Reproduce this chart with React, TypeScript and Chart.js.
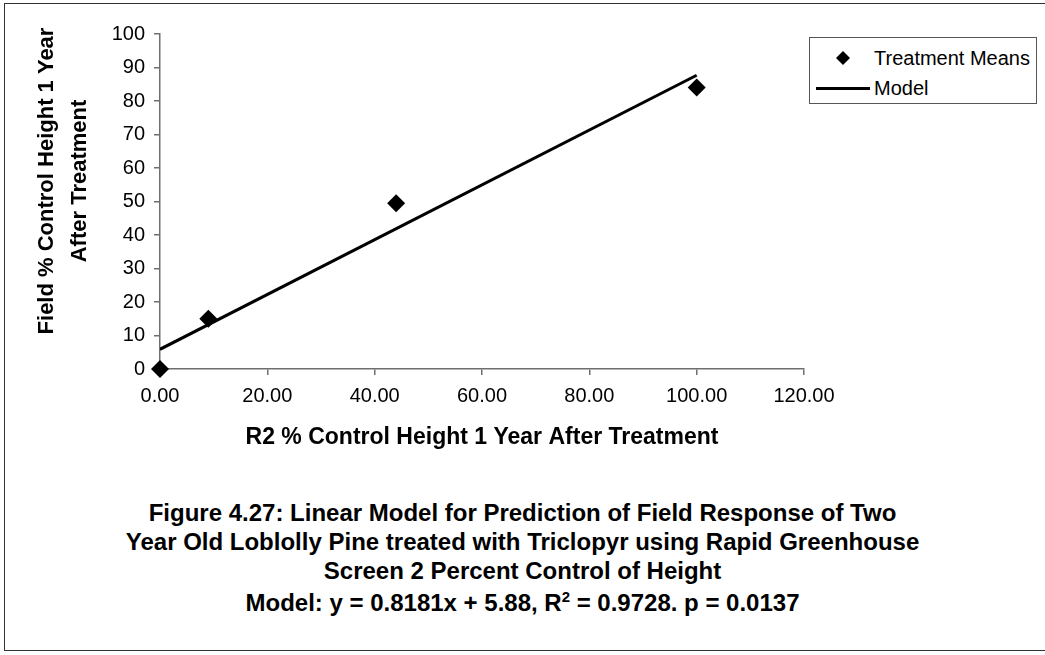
import React, { useEffect, useRef } from "react";
import { Chart, registerables } from "chart.js";

Chart.register(...registerables);

// Treatment means (R2 % control height vs field % control height)
const meansX = [0, 9, 44, 100];
const meansY = [0, 15, 49.5, 84];

// Fitted linear model endpoints
const modelX = [0, 100];
const modelY = [5.88, 87.69];

// Axis ticks
const xTicks = [0, 20, 40, 60, 80, 100, 120];
const yTicks = [0, 10, 20, 30, 40, 50, 60, 70, 80, 90, 100];

const seriesNames = ["Treatment Means", "Model"];
const xTitle = "R2 % Control Height 1 Year After Treatment";
const yTitle = ["Field % Control Height 1 Year", "After Treatment"];

const captionLines = [
  "Figure 4.27: Linear Model for Prediction of Field Response of Two",
  "Year Old Loblolly Pine treated with Triclopyr using Rapid Greenhouse",
  "Screen 2 Percent Control of Height",
];
const modelSlope = "0.8181";
const modelIntercept = "5.88";
const modelR2 = "0.9728";
const modelP = "0.0137";

const FONT = "'Liberation Sans', Arial, sans-serif";
const CANVAS_W = 1045;
const CANVAS_H = 470;

const axisTitles = {
  id: "axisTitles",
  afterDraw(chart: any) {
    const { ctx, chartArea } = chart;
    ctx.save();
    ctx.fillStyle = "#000";
    ctx.textAlign = "center";
    ctx.textBaseline = "middle";
    // x title
    ctx.font = `bold 23px ${FONT}`;
    ctx.fillText(xTitle, (chartArea.left + chartArea.right) / 2, chartArea.bottom + 69);
    // y title (two rotated lines)
    ctx.font = `bold 22px ${FONT}`;
    const cy = chartArea.top + 147;
    ctx.translate(0, cy);
    ctx.rotate(-Math.PI / 2);
    ctx.fillText(yTitle[0], 0, 47);
    ctx.fillText(yTitle[1], 0, 80);
    ctx.restore();
  },
};

export default function App() {
  const ref = useRef<HTMLCanvasElement>(null);

  useEffect(() => {
    if (!ref.current) return;
    const axisColor = "#6f6f6f";
    const chart = new Chart(ref.current, {
      type: "scatter",
      data: {
        datasets: [
          {
            label: seriesNames[1],
            data: modelX.map((x, i) => ({ x, y: modelY[i] })),
            showLine: true,
            borderColor: "#000",
            borderWidth: 3,
            pointRadius: 0,
            order: 2,
          },
          {
            label: seriesNames[0],
            data: meansX.map((x, i) => ({ x, y: meansY[i] })),
            pointStyle: "rectRot",
            pointRadius: 9,
            backgroundColor: "#000",
            borderColor: "#000",
            borderWidth: 0,
            clip: false as any,
            order: 1,
          },
        ],
      },
      options: {
        responsive: false,
        animation: false,
        layout: { padding: { top: 34, right: CANVAS_W - 804, left: 0, bottom: 0 } },
        plugins: { legend: { display: false }, tooltip: { enabled: false } },
        scales: {
          x: {
            type: "linear",
            min: 0,
            max: 120,
            afterFit: (s: any) => {
              s.height = CANVAS_H - 369;
            },
            afterBuildTicks: (s: any) => {
              s.ticks = xTicks.map((v) => ({ value: v }));
            },
            ticks: {
              color: "#000",
              font: { family: FONT, size: 20 },
              padding: 9,
              maxRotation: 0,
              callback: (v: any) => Number(v).toFixed(2),
            },
            grid: { drawOnChartArea: false, drawTicks: true, tickLength: 6, color: axisColor, lineWidth: 1.5 },
            border: { display: true, color: axisColor, width: 1.5 },
          },
          y: {
            type: "linear",
            min: 0,
            max: 100,
            afterFit: (s: any) => {
              s.width = 160;
            },
            afterBuildTicks: (s: any) => {
              s.ticks = yTicks.map((v) => ({ value: v }));
            },
            ticks: {
              color: "#000",
              font: { family: FONT, size: 20 },
              padding: 9,
              callback: (v: any) => String(v),
            },
            grid: { drawOnChartArea: false, drawTicks: true, tickLength: 6, color: axisColor, lineWidth: 1.5 },
            border: { display: true, color: axisColor, width: 1.5 },
          },
        },
      },
      plugins: [axisTitles],
    });
    return () => chart.destroy();
  }, []);

  return (
    <div
      style={{
        position: "absolute",
        left: 0,
        top: 0,
        width: CANVAS_W,
        height: 655,
        overflow: "hidden",
        background: "#fff",
        fontFamily: FONT,
      }}
    >
      <div
        style={{
          position: "absolute",
          left: 4,
          top: 3,
          width: 1100,
          height: 648,
          border: "1.5px solid #333",
          boxSizing: "border-box",
        }}
      />
      <canvas
        ref={ref}
        width={CANVAS_W}
        height={CANVAS_H}
        style={{ position: "absolute", left: 0, top: 0, width: CANVAS_W, height: CANVAS_H }}
      />
      {/* legend */}
      <div
        style={{
          position: "absolute",
          left: 809,
          top: 37,
          width: 228,
          height: 67,
          border: "1px solid #555",
          boxSizing: "border-box",
          background: "#fff",
          fontSize: 20,
          color: "#000",
        }}
      >
        <div style={{ position: "absolute", left: 0, top: 8, height: 24, display: "flex", alignItems: "center" }}>
          <svg width={64} height={24} style={{ display: "block" }}>
            <polygon points="33,5 40,12 33,19 26,12" fill="#000" />
          </svg>
          <span style={{ lineHeight: "24px", whiteSpace: "nowrap" }}>{seriesNames[0]}</span>
        </div>
        <div style={{ position: "absolute", left: 0, top: 38, height: 24, display: "flex", alignItems: "center" }}>
          <svg width={64} height={24} style={{ display: "block" }}>
            <line x1={6} y1={12.5} x2={60} y2={12.5} stroke="#000" strokeWidth={3} />
          </svg>
          <span style={{ lineHeight: "24px", whiteSpace: "nowrap" }}>{seriesNames[1]}</span>
        </div>
      </div>
      {/* caption */}
      <div
        style={{
          position: "absolute",
          left: 0,
          top: 498,
          width: CANVAS_W,
          textAlign: "center",
          fontWeight: "bold",
          fontSize: 24,
          lineHeight: "29px",
          color: "#000",
        }}
      >
        {captionLines.map((t) => (
          <div key={t}>{t}</div>
        ))}
        <div style={{ marginTop: 3 }}>
          {`Model: y = ${modelSlope}x + ${modelIntercept}, R`}
          <sup style={{ fontSize: 15, lineHeight: 0, verticalAlign: "9px" }}>2</sup>
          {` = ${modelR2}. p = ${modelP}`}
        </div>
      </div>
    </div>
  );
}
